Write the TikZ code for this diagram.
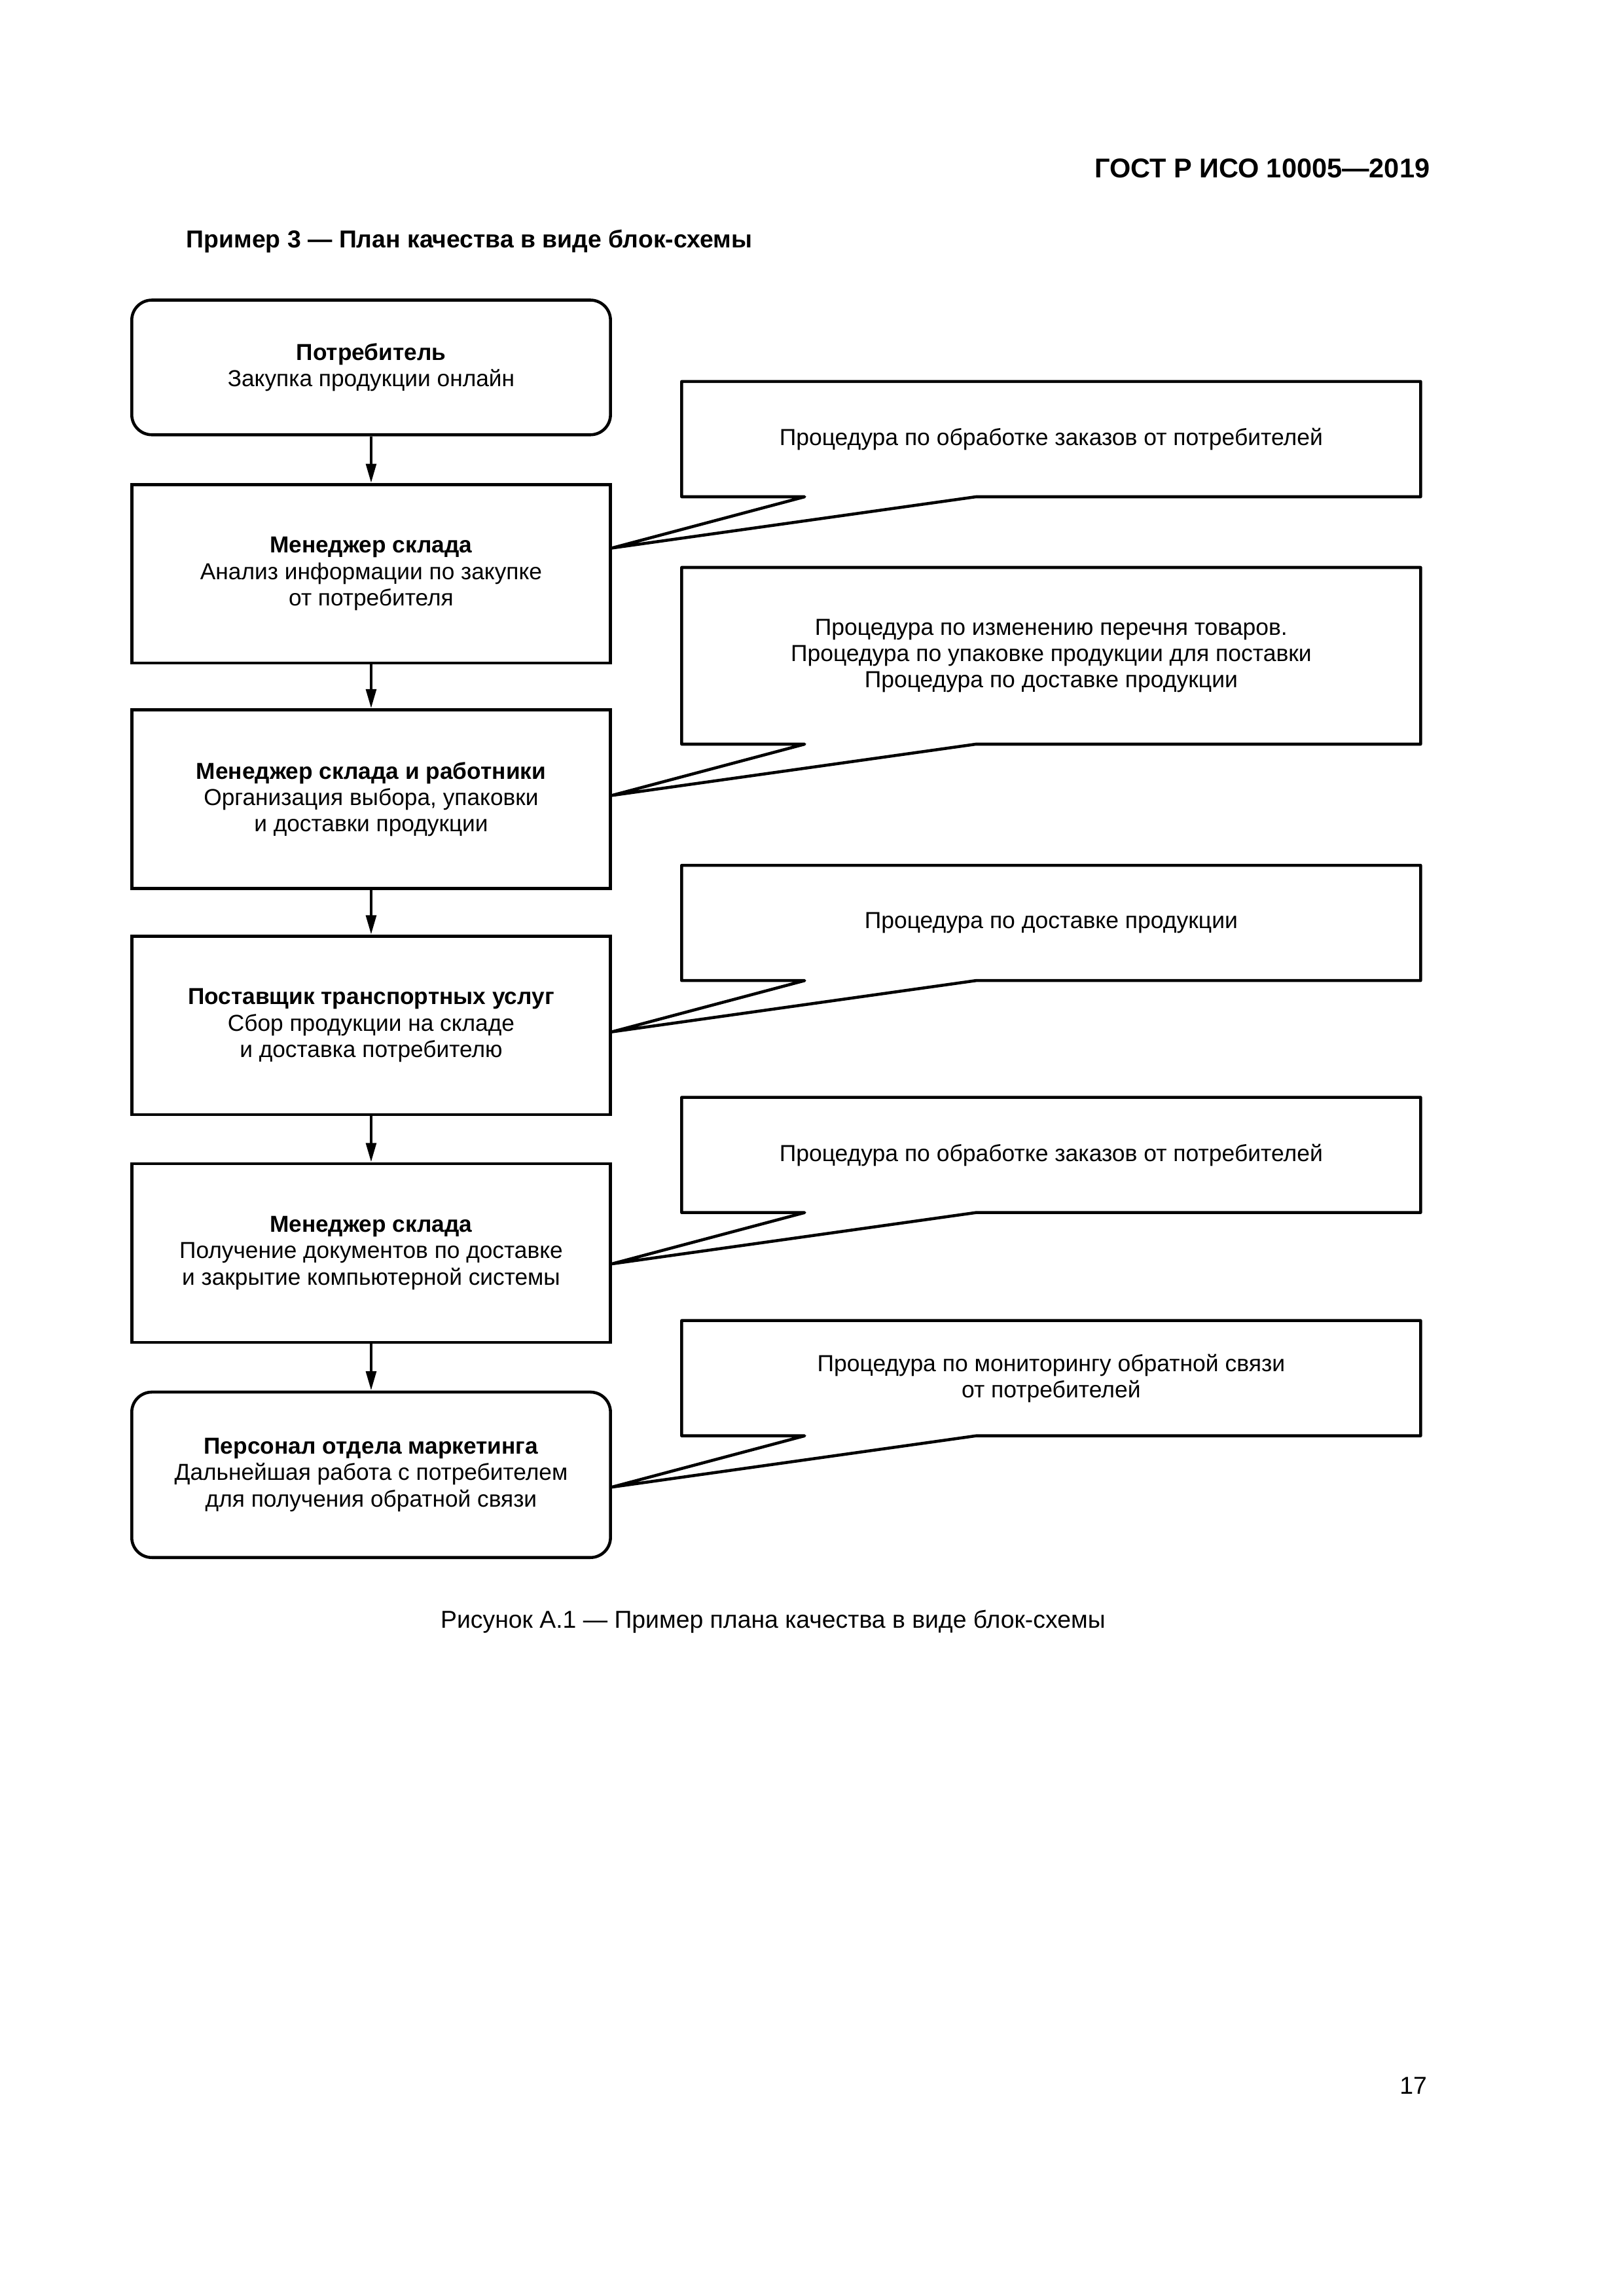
\documentclass[tikz,border=0pt]{standalone}
\usepackage{fontspec}
\setmainfont{Liberation Sans}
\usetikzlibrary{arrows.meta,calc}

\tikzset{
  procbox/.style={draw, line width=1.1pt, minimum width=61.92mm, minimum height=23.1mm,
    align=center, inner sep=0pt, font=\fontsize{8.5}{9.7}\selectfont},
  procround/.style={procbox, rounded corners=2.6mm},
  notebox/.style={minimum width=95.44mm, minimum height=14.77mm, align=center,
    inner sep=0pt, font=\fontsize{8.55}{9.7}\selectfont},
  noteline/.style={line width=1.1pt, line join=round},
  flow/.style={line width=1.1pt, -{Triangle[length=2.5mm,width=1.3mm]}},
  pagetext/.style={inner sep=0pt, font=\fontsize{9}{11}\selectfont}
}

\begin{document}
\begin{tikzpicture}[x=0.18936mm,y=0.18936mm,yscale=-1]
\useasboundingbox (0,0) rectangle (1109,1568.5);

% page head
\node[pagetext, anchor=east, font=\fontsize{10}{12}\selectfont\bfseries] (head) at (977,115) {ГОСТ Р ИСО 10005—2019};
\node[pagetext, anchor=west, font=\fontsize{9}{11}\selectfont\bfseries] (title) at (127,165) {Пример 3 — План качества в виде блок-схемы};

% left column
\node[procround, minimum height=17.42mm] (b1) at (253.5,251)
  {\textbf{Потребитель}\\Закупка продукции онлайн};
\node[procbox] (b2) at (253.5,392)
  {\textbf{Менеджер склада}\\Анализ информации по закупке\\от потребителя};
\node[procbox] (b3) at (253.5,546)
  {\textbf{Менеджер склада и работники}\\Организация выбора, упаковки\\и доставки продукции};
\node[procbox] (b4) at (253.5,700.5)
  {\textbf{Поставщик транспортных услуг}\\Сбор продукции на складе\\и доставка потребителю};
\node[procbox] (b5) at (253.5,856)
  {\textbf{Менеджер склада}\\Получение документов по доставке\\и закрытие компьютерной системы};
\node[procround, minimum height=21.4mm] (b6) at (253.5,1007.5)
  {\textbf{Персонал отдела маркетинга}\\Дальнейшая работа с потребителем\\для получения обратной связи};

\draw[flow] (b1) -- (b2);
\draw[flow] (b2) -- (b3);
\draw[flow] (b3) -- (b4);
\draw[flow] (b4) -- (b5);
\draw[flow] (b5) -- (b6);

% right column
\node[notebox] (c1) at (718,300) {Процедура по обработке заказов от потребителей};
\node[notebox, minimum height=22.72mm] (c2) at (718,448)
  {Процедура по изменению перечня товаров.\\Процедура по упаковке продукции для поставки\\Процедура по доставке продукции};
\node[notebox] (c3) at (718,630.5) {Процедура по доставке продукции};
\node[notebox] (c4) at (718,789) {Процедура по обработке заказов от потребителей};
\node[notebox] (c5) at (718,941.5) {Процедура по мониторингу обратной связи\\от потребителей};

\coordinate (t1) at ($(b2.east |- c1.south)+(0,35)$);
\coordinate (t2) at ($(b3.east |- c2.south)+(0,35)$);
\coordinate (t3) at ($(b4.east |- c3.south)+(0,35)$);
\coordinate (t4) at ($(b5.east |- c4.south)+(0,35)$);
\coordinate (t5) at ($(b6.east |- c5.south)+(0,35)$);

\foreach \n in {1,...,5}
  \draw[noteline] (c\n.south west) -- (c\n.north west) -- (c\n.north east) -- (c\n.south east)
    -- ([xshift=38.06mm]c\n.south west) -- (t\n) -- ([xshift=15.91mm]c\n.south west) -- cycle;

% caption and page number
\node[pagetext] (caption) at (528,1108) {Рисунок А.1 — Пример плана качества в виде блок-схемы};
\node[pagetext, anchor=east] (page) at (975,1425) {17};

\end{tikzpicture}
\end{document}
